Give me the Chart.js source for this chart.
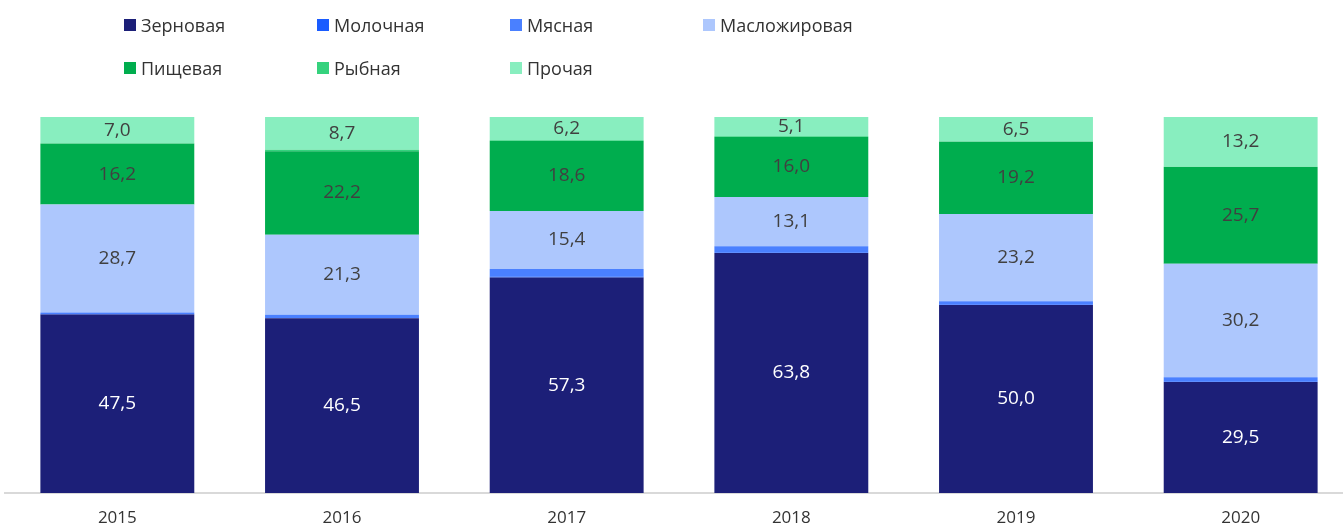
<!DOCTYPE html>
<html lang="ru">
<head>
    <meta charset="UTF-8">
    <title>Структура</title>
    <script src="https://cdn.jsdelivr.net/npm/chart.js"></script>
    <style>
        body { margin: 0; background: #fff; font-family: "Open Sans", Lato, sans-serif; }
        #wrap { position: relative; width: 1343px; height: 525px; overflow: hidden; }
        #legenda { position: absolute; left: 124px; top: 13px; display: grid;
                   grid-template-columns: 193px 193px 193px 193px; row-gap: 19px; }
        .voce { display: flex; align-items: center; font-size: 18px; color: #333; height: 24px; white-space: nowrap; }
        .voce span { display: inline-block; width: 12px; height: 12px; margin-right: 5px; }
    </style>
</head>
<body>
<div id="wrap">
    <div id="legenda"></div>
    <!-- il grafico originale esce un po' a destra: canvas più larga, tagliata dal contenitore -->
    <canvas id="grafico" width="1353" height="525"></canvas>
</div>
<script>
    // Dati
    const anni = ['2015', '2016', '2017', '2018', '2019', '2020'];
    const serie = ['Зерновая', 'Молочная', 'Мясная', 'Масложировая', 'Пищевая', 'Рыбная', 'Прочая'];
    const zernovaya = [47.5, 46.5, 57.3, 63.8, 50.0, 29.5];
    const molochnaya = [0.1, 0.0, 0.2, 0.1, 0.1, 0.1];
    const myasnaya = [0.4, 0.9, 2.1, 1.7, 0.9, 1.2];
    const maslo = [28.7, 21.3, 15.4, 13.1, 23.2, 30.2];
    const pishchevaya = [16.2, 22.2, 18.6, 16.0, 19.2, 25.7];
    const rybnaya = [0.1, 0.4, 0.2, 0.2, 0.1, 0.1];
    const prochaya = [7.0, 8.7, 6.2, 5.1, 6.5, 13.2];

    const valori = [zernovaya, molochnaya, myasnaya, maslo, pishchevaya, rybnaya, prochaya];
    const colori = ['#1c1f78', '#1a5cff', '#4a80ff', '#adc7fd', '#00ad4e', '#35d27d', '#88eebf'];
    const conEtichetta = [true, false, false, true, true, false, true];

    // Legenda in HTML
    const leg = document.getElementById('legenda');
    serie.forEach((nome, i) => {
        const d = document.createElement('div');
        d.className = 'voce';
        d.innerHTML = '<span style="background:' + colori[i] + '"></span>' + nome;
        leg.appendChild(d);
    });

    // Etichette dentro i segmenti
    const etichette = {
        id: 'etichette',
        afterDatasetsDraw(chart) {
            const ctx = chart.ctx;
            ctx.save();
            ctx.font = '19px "Open Sans", Lato, sans-serif';
            ctx.textAlign = 'center';
            ctx.textBaseline = 'middle';
            chart.data.datasets.forEach((ds, i) => {
                if (!conEtichetta[i]) return;
                chart.getDatasetMeta(i).data.forEach((bar, j) => {
                    const v = ds.data[j];
                    ctx.fillStyle = i === 0 ? '#ffffff' : '#404040';
                    ctx.fillText(v.toFixed(1).replace('.', ','), bar.x, (bar.y + bar.base) / 2);
                });
            });
            ctx.restore();
        }
    };

    new Chart(document.getElementById('grafico'), {
        type: 'bar',
        data: {
            labels: anni,
            datasets: serie.map((nome, i) => ({
                label: nome,
                data: valori[i],
                backgroundColor: colori[i],
                borderWidth: 0,
                categoryPercentage: 1,
                barPercentage: 0.685
            }))
        },
        options: {
            responsive: false,
            animation: false,
            layout: { padding: { top: 117, left: 5, right: 0, bottom: 0 } },
            plugins: { legend: { display: false }, tooltip: { enabled: false } },
            scales: {
                x: {
                    stacked: true,
                    grid: { display: false, drawTicks: false },
                    border: { color: '#d9d9d9', width: 2 },
                    ticks: { color: '#333', font: { size: 17, family: '"Open Sans", Lato, sans-serif' }, padding: 15 },
                    afterFit(scala) { scala.height = 32; }   // asse a y ~493 come nell'originale
                },
                y: {
                    stacked: true,
                    display: false,
                    min: 0,
                    max: 100
                }
            }
        },
        plugins: [etichette]
    });
</script>
</body>
</html>
